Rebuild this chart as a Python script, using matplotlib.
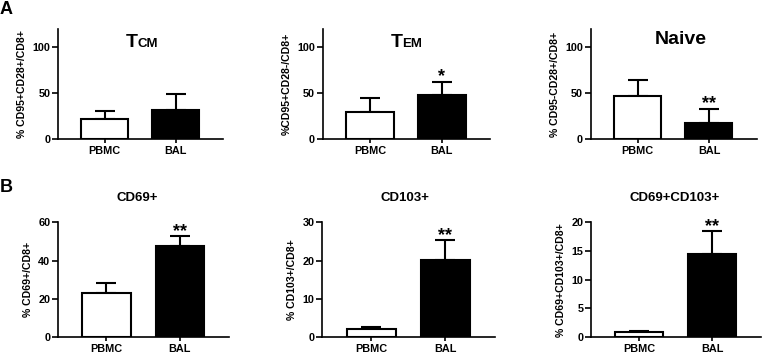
import matplotlib
matplotlib.use("Agg")
import matplotlib.pyplot as plt
from matplotlib.offsetbox import TextArea, HPacker, AnchoredOffsetbox

plt.rcParams['font.family'] = ['Liberation Sans', 'DejaVu Sans']
plt.rcParams['font.weight'] = 'bold'

groups = ["PBMC", "BAL"]

tcm_mean = [22, 32]
tcm_err = [9, 17]
tem_mean = [29, 48.5]
tem_err = [16, 14]
naive_mean = [47, 17]
naive_err = [17, 16]
cd69_mean = [23, 47.5]
cd69_err = [5, 5.2]
cd103_mean = [2.0, 20.1]
cd103_err = [0.6, 5.2]
dp_mean = [0.9, 14.5]
dp_err = [0.15, 3.9]

stars_a = ["", "*", "**"]
stars_b = ["**", "**", "**"]

ylabels_a = ["% CD95+CD28+/CD8+", "%CD95+CD28-/CD8+", "% CD95-CD28+/CD8+"]
ylabels_b = ["% CD69+/CD8+", "% CD103+/CD8+", "% CD69+CD103+/CD8+"]
titles_b = ["CD69+", "CD103+", "CD69+CD103+"]

W, H = 765, 353
fig = plt.figure(figsize=(W / 100, H / 100), dpi=100)

def px_axes(x0, x1, y0, y1):
    return fig.add_axes([x0 / W, (H - y1) / H, (x1 - x0) / W, (y1 - y0) / H])

axA = [px_axes(58, 223, 29, 139), px_axes(322.7, 490, 29, 139), px_axes(590.7, 756.7, 29, 139)]
axB = [px_axes(58, 229, 222.3, 337), px_axes(322, 495, 222.3, 337), px_axes(591.3, 760.7, 222.3, 337)]

def draw(ax, means, errs, ylim, yticks, ylabel, star):
    x = [0, 1]
    ax.bar(x, means, width=0.66, color=['white', 'black'], edgecolor='black',
           linewidth=1.5, zorder=2)
    ax.errorbar(x, means, yerr=[[0, 0], errs], fmt='none', ecolor='black',
                elinewidth=1.5, capsize=7, capthick=1.5, zorder=1)
    ax.set_xlim(-0.66, 1.67)
    ax.set_ylim(*ylim)
    ax.set_yticks(yticks)
    ax.set_xticks(x)
    ax.set_xticklabels(groups)
    for s in ['top', 'right']:
        ax.spines[s].set_visible(False)
    for s in ['left', 'bottom']:
        ax.spines[s].set_linewidth(1.2)
    ax.tick_params(axis='y', length=4, width=1.2, labelsize=7.8, pad=1.5)
    ax.tick_params(axis='x', length=3, width=1.2, labelsize=7.8, pad=2)
    for lab in ax.get_xticklabels() + ax.get_yticklabels():
        lab.set_fontweight('bold')
    ax.set_ylabel(ylabel, fontsize=7.6, fontweight='bold', labelpad=4)
    if star:
        ax.annotate(star, xy=(1, means[1] + errs[1]), xytext=(0, -2.5),
                    textcoords='offset points', ha='center', va='bottom',
                    fontsize=13, fontweight='bold')

yl_a = (0, 120)
draw(axA[0], tcm_mean, tcm_err, yl_a, [0, 50, 100], ylabels_a[0], stars_a[0])
draw(axA[1], tem_mean, tem_err, yl_a, [0, 50, 100], ylabels_a[1], stars_a[1])
draw(axA[2], naive_mean, naive_err, yl_a, [0, 50, 100], ylabels_a[2], stars_a[2])
draw(axB[0], cd69_mean, cd69_err, (0, 60), [0, 20, 40, 60], ylabels_b[0], stars_b[0])
draw(axB[1], cd103_mean, cd103_err, (0, 30), [0, 10, 20, 30], ylabels_b[1], stars_b[1])
draw(axB[2], dp_mean, dp_err, (0, 20), [0, 5, 10, 15, 20], ylabels_b[2], stars_b[2])

def smallcap_title(ax, big, small, xf, yf):
    t1 = TextArea(big, textprops=dict(fontsize=14, fontweight='bold'))
    t2 = TextArea(small, textprops=dict(fontsize=9.5, fontweight='bold'))
    box = HPacker(children=[t1, t2], align='baseline', pad=0, sep=0)
    ab = AnchoredOffsetbox(loc='center', child=box, pad=0, borderpad=0, frameon=False,
                           bbox_to_anchor=(xf, yf), bbox_transform=ax.transAxes)
    ax.add_artist(ab)

smallcap_title(axA[0], "T", "CM", 0.51, 0.88)
smallcap_title(axA[1], "T", "EM", 0.50, 0.88)
axA[2].text(0.54, 0.9, "Naive", transform=axA[2].transAxes, ha='center', va='center',
            fontsize=14, fontweight='bold')

for ax, t, xf in zip(axB, titles_b, [0.466, 0.477, 0.494]):
    ax.text(xf, 1.21, t, transform=ax.transAxes, ha='center', va='center',
            fontsize=9.5, fontweight='bold')

fig.text(0.0, 1 - 9 / H, "A", ha='left', va='center', fontsize=13, fontweight='bold')
fig.text(0.0, 1 - 188 / H, "B", ha='left', va='center', fontsize=13, fontweight='bold')

fig.savefig("out.png", dpi=100)
